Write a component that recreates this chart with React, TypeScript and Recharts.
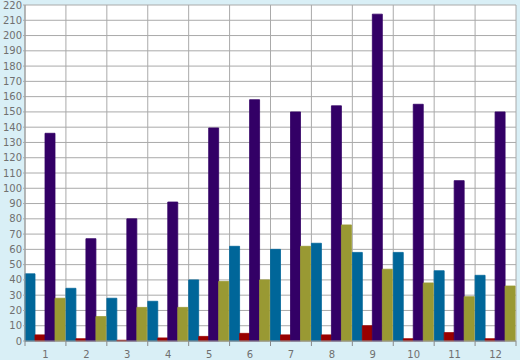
import React from 'react';
import { BarChart, Bar, XAxis, YAxis, CartesianGrid } from 'recharts';

const categories = ['1', '2', '3', '4', '5', '6', '7', '8', '9', '10', '11', '12'];
const blueValues = [44, 34.5, 28, 26, 40, 62, 60, 64, 58, 58, 46, 43];
const redValues = [4, 1.5, 0.5, 2, 3, 5, 4, 4, 10, 1.5, 5.5, 1.5];
const purpleValues = [136, 67, 80, 91, 139.5, 158, 150, 154, 214, 155, 105, 150];
const oliveValues = [28, 16, 22, 22, 39, 40, 62, 76, 47, 38, 29, 36];
const yTicks = Array.from({ length: 23 }, (_, i) => i * 10);
const gridTicks = categories.map((_, i) => i).concat([categories.length]);

const data = categories.map((name, i) => ({
  name,
  idx: i,
  blue: blueValues[i],
  red: redValues[i],
  purple: purpleValues[i],
  olive: oliveValues[i],
}));

const FONT = '"DejaVu Sans", sans-serif';
const TEXT = '#707070';

function XTick(props: any) {
  const { x, y, payload, index } = props;
  const half = payload.offset || 0;
  const last = index === categories.length - 1;
  return (
    <g>
      <line x1={x - half} x2={x - half} y1={y} y2={y + 5} stroke="#888" />
      {last && <line x1={x + half} x2={x + half} y1={y} y2={y + 5} stroke="#888" />}
      <text x={x} y={y + 17} textAnchor="middle" fill={TEXT} fontSize={10} fontFamily={FONT}>
        {payload.value}
      </text>
    </g>
  );
}

const series = [
  { key: 'blue', color: '#006699' },
  { key: 'red', color: '#990000' },
  { key: 'purple', color: '#330066' },
  { key: 'olive', color: '#999933' },
];

export default function App() {
  return (
    <div style={{ position: 'absolute', left: 0, top: 0, width: 520, height: 360, background: '#d9eff6' }}>
      <BarChart
        width={520}
        height={360}
        data={data}
        margin={{ top: 5, right: 4, bottom: 0, left: 0 }}
        barCategoryGap={0}
        barGap={0}
      >
        <CartesianGrid xAxisId="g" stroke="#aaa" fill="#fff" fillOpacity={1} />
        <XAxis
          xAxisId="g"
          type="number"
          dataKey="idx"
          domain={[0, categories.length]}
          ticks={gridTicks}
          hide
        />
        <XAxis
          dataKey="name"
          height={19}
          tickLine={false}
          tickSize={0}
          tickMargin={0}
          interval={0}
          axisLine={{ stroke: '#999' }}
          tick={<XTick />}
        />
        <YAxis
          width={25}
          domain={[0, 220]}
          ticks={yTicks}
          interval={0}
          tickLine={{ stroke: '#aaa' }}
          tickSize={2}
          tickMargin={1}
          axisLine={{ stroke: '#999' }}
          tick={{ fill: TEXT, fontSize: 10, fontFamily: FONT }}
        />
        {series.map((s) => (
          <Bar
            key={s.key}
            dataKey={s.key}
            fill={s.color}
            stroke={s.color}
            strokeWidth={0.8}
            isAnimationActive={false}
          />
        ))}
      </BarChart>
    </div>
  );
}
